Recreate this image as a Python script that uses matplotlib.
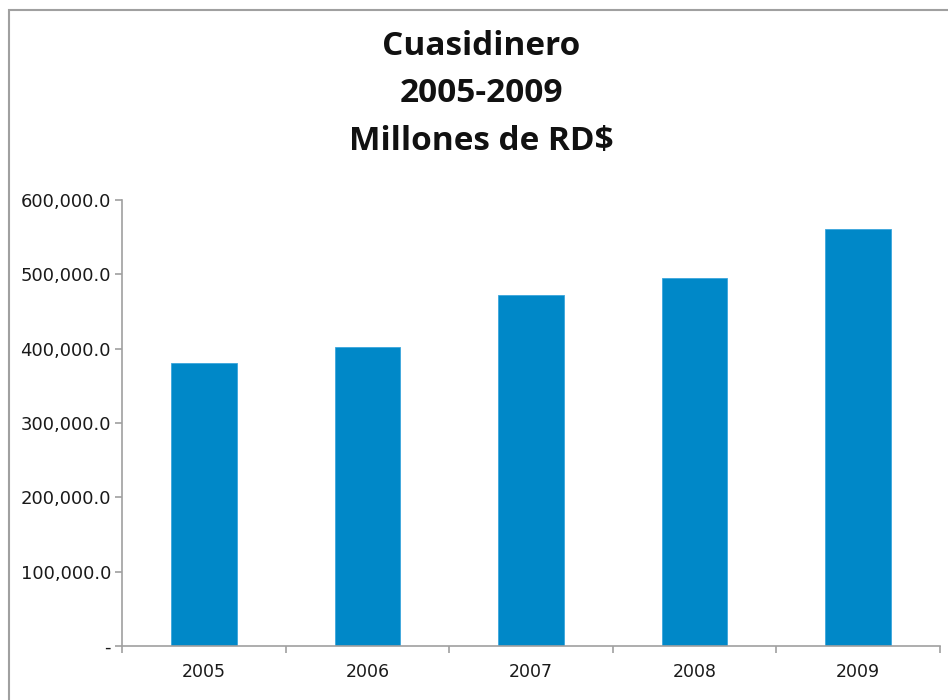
import matplotlib.pyplot as plt
from matplotlib.ticker import FuncFormatter, FixedLocator
from matplotlib.patches import Rectangle

years = ["2005", "2006", "2007", "2008", "2009"]
values = [381000, 402000, 472000, 494500, 560500]
y_ticks = [0, 100000, 200000, 300000, 400000, 500000, 600000]

fig = plt.figure(figsize=(9.48, 7.0), dpi=100)
ax = fig.add_axes([122 / 948, 1 - 646 / 700, (940 - 122) / 948, 446 / 700])

x = range(len(years))
ax.bar(x, values, width=0.4, color="#0088c8", edgecolor="#3aa6dc", linewidth=0.6)

ax.set_xlim(-0.5, len(years) - 0.5)
ax.set_ylim(0, 600000)
ax.set_yticks(y_ticks)


def fmt(v, pos):
    if v == 0:
        return "-"
    return f"{v:,.1f}"


ax.yaxis.set_major_formatter(FuncFormatter(fmt))
ax.set_xticks(list(x))
ax.set_xticklabels(years)
ax.xaxis.set_minor_locator(FixedLocator([i - 0.5 for i in range(len(years) + 1)]))
ax.tick_params(axis="x", which="major", length=0, pad=12)
ax.tick_params(axis="x", which="minor", length=5, color="#a0a0a0", width=1.2)
ax.tick_params(axis="y", length=5, color="#a0a0a0", width=1.2, pad=3)
for lab in ax.get_yticklabels():
    lab.set_fontsize(13)
    lab.set_color("#1a1a1a")
for lab in ax.get_xticklabels():
    lab.set_fontsize(12.5)
    lab.set_color("#1a1a1a")

for s in ["top", "right"]:
    ax.spines[s].set_visible(False)
for s in ["left", "bottom"]:
    ax.spines[s].set_color("#a0a0a0")
    ax.spines[s].set_linewidth(1.2)

fig.text(0.508, 1 - 94 / 700, "Cuasidinero\n2005-2009\nMillones de RD$",
         ha="center", va="center", fontsize=24, fontweight="bold",
         family="Open Sans", linespacing=1.57, color="#111111")

# chart-area border
fig.patches.append(Rectangle((9 / 948, -0.05), 1.0, 1 - 10 / 700 + 0.05,
                             transform=fig.transFigure, fill=False,
                             edgecolor="#a0a0a0", linewidth=1.5))

fig.savefig("out.png", dpi=100)
